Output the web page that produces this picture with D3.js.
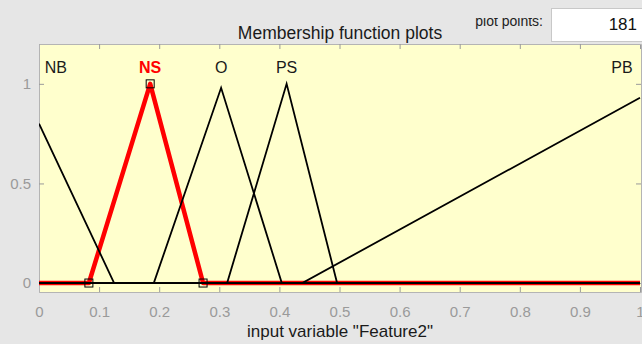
<!DOCTYPE html>
<html>
<head>
<meta charset="utf-8">
<script src="https://cdn.jsdelivr.net/npm/d3@7"></script>
<style>
  html, body { margin: 0; padding: 0; background: #e6e6e6; }
  svg { display: block; font-family: "Liberation Sans", Arial, Helvetica, sans-serif; }
</style>
</head>
<body>
<svg id="chart" width="642" height="344"></svg>
<script>
// Membership functions of input variable "Feature2" (vertices in [0,1])
const mfNames = ["NB", "NS", "O", "PS", "PB"];
const nbPoints = [[0, 0.8], [0.125, 0], [1, 0]];
const nsPoints = [[0, 0], [0.083, 0], [0.185, 1], [0.273, 0], [1, 0]];
const oPoints  = [[0, 0], [0.191, 0], [0.303, 0.98], [0.404, 0], [1, 0]];
const psPoints = [[0, 0], [0.313, 0], [0.412, 1], [0.496, 0], [1, 0]];
const pbPoints = [[0, 0], [0.438, 0], [1, 0.93]];
const labelX   = [0.028, 0.185, 0.303, 0.412, 0.97];
const selected = "NS";
const xTicks = [0, 0.1, 0.2, 0.3, 0.4, 0.5, 0.6, 0.7, 0.8, 0.9, 1];
const yTicks = [0, 0.5, 1];
const plotPoints = 181;

const mfs = [nbPoints, nsPoints, oPoints, psPoints, pbPoints];

const svg = d3.select("#chart");
const pLeft = 39, pRight = 640, pTop = 44, pBottom = 292;

const x = d3.scaleLinear().domain([0, 1]).range([pLeft, pRight]);
const y = d3.scaleLinear().domain([-0.045, 1.2]).range([pBottom, pTop]);

// plot background
svg.append("rect")
  .attr("x", pLeft).attr("y", pTop)
  .attr("width", pRight - pLeft + 1).attr("height", pBottom - pTop)
  .attr("fill", "#ffffcd");

const defs = svg.append("defs");
defs.append("clipPath").attr("id", "plotclip")
  .append("rect").attr("x", pLeft).attr("y", pTop)
  .attr("width", pRight - pLeft + 1).attr("height", pBottom - pTop);

// inward ticks on all four sides
const tickColor = "#9a9a9a";
const tickLen = 5;
const xb = d3.axisBottom(x).tickValues(xTicks).tickSize(-tickLen).tickPadding(14)
  .tickFormat(d => d === 0 || d === 1 ? d3.format("d")(d) : d3.format(".1f")(d));
const gxb = svg.append("g").attr("transform", `translate(0,${pBottom})`).call(xb);
const gxt = svg.append("g").attr("transform", `translate(0,${pTop})`)
  .call(d3.axisTop(x).tickValues(xTicks).tickSize(-tickLen).tickFormat(""));
const yl = d3.axisLeft(y).tickValues(yTicks).tickSize(-tickLen).tickPadding(8)
  .tickFormat(d => d === 0.5 ? "0.5" : d3.format("d")(d));
const gyl = svg.append("g").attr("transform", `translate(${pLeft},0)`).call(yl);
const gyr = svg.append("g").attr("transform", `translate(${pRight + 1},0)`)
  .call(d3.axisRight(y).tickValues(yTicks).tickSize(-tickLen).tickFormat(""));

[gxb, gxt, gyl, gyr].forEach(g => {
  g.select(".domain").attr("stroke", "#b4b4b4").attr("stroke-width", 1);
  g.selectAll(".tick line").attr("stroke", tickColor);
  g.selectAll(".tick text").attr("fill", "#9a9a9a").attr("font-size", 15)
    .attr("font-family", "Liberation Sans, Arial, sans-serif");
});

// membership function curves
const line = d3.line().x(d => x(d[0])).y(d => y(d[1]));
const curves = svg.append("g").attr("clip-path", "url(#plotclip)");
const selIdx = mfNames.indexOf(selected);

curves.append("path")
  .datum(mfs[selIdx])
  .attr("d", line)
  .attr("fill", "none")
  .attr("stroke", "#ff0000")
  .attr("stroke-width", 4.5)
  .attr("stroke-linejoin", "round");

mfs.forEach((pts, i) => {
  if (i === selIdx) return;
  curves.append("path")
    .datum(pts)
    .attr("d", line)
    .attr("fill", "none")
    .attr("stroke", "#000")
    .attr("stroke-width", 1.8);
});

// vertex handles on the selected function
const handles = mfs[selIdx].filter(d => d[0] > 0 && d[0] < 1);
svg.append("g").selectAll("rect").data(handles).join("rect")
  .attr("x", d => x(d[0]) - 4)
  .attr("y", d => y(d[1]) - 4)
  .attr("width", 8).attr("height", 8)
  .attr("fill", "none").attr("stroke", "#000").attr("stroke-width", 1);

// function names
svg.append("g").selectAll("text").data(mfNames).join("text")
  .attr("x", (d, i) => x(labelX[i]))
  .attr("y", 73)
  .attr("text-anchor", "middle")
  .attr("font-size", 16)
  .attr("font-weight", d => d === selected ? "bold" : "normal")
  .attr("fill", d => d === selected ? "#ff0000" : "#1a1a1a")
  .text(d => d);

// title and axis label
svg.append("text")
  .attr("x", 340).attr("y", 38.5)
  .attr("text-anchor", "middle")
  .attr("font-size", 17.5)
  .attr("fill", "#1a1a1a")
  .text("Membership function plots");

svg.append("text")
  .attr("x", 340).attr("y", 337)
  .attr("text-anchor", "middle")
  .attr("font-size", 17)
  .attr("fill", "#1a1a1a")
  .text('input variable "Feature2"');

// plot points control
defs.append("clipPath").attr("id", "ctrlclip")
  .append("rect").attr("x", 470).attr("y", 18).attr("width", 80).attr("height", 24);
svg.append("text")
  .attr("x", 543).attr("y", 26)
  .attr("text-anchor", "end")
  .attr("font-size", 14)
  .attr("fill", "#222")
  .attr("clip-path", "url(#ctrlclip)")
  .text("plot points:");

svg.append("rect")
  .attr("x", 551.5).attr("y", 8.5)
  .attr("width", 92).attr("height", 33)
  .attr("fill", "#fff").attr("stroke", "#c8c8c8");

svg.append("text")
  .attr("x", 637).attr("y", 30)
  .attr("text-anchor", "end")
  .attr("font-size", 17)
  .attr("fill", "#111")
  .text(plotPoints);
</script>
</body>
</html>
